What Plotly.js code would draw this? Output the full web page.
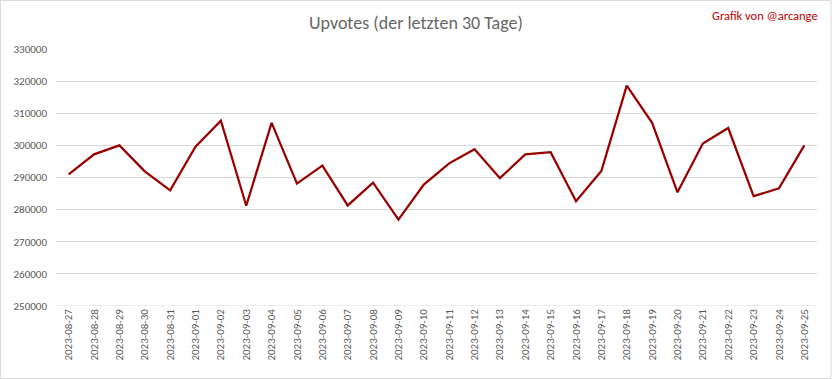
<!DOCTYPE html>
<html><head><meta charset="utf-8">
<script src="https://cdn.plot.ly/plotly-3.0.1.min.js"></script>
<style>html,body{margin:0;padding:0;background:#fff}#c{width:832px;height:379px}</style>
</head><body><div id="c"></div>
<script>
const dates = ["2023-08-27","2023-08-28","2023-08-29","2023-08-30","2023-08-31","2023-09-01","2023-09-02","2023-09-03","2023-09-04","2023-09-05","2023-09-06","2023-09-07","2023-09-08","2023-09-09","2023-09-10","2023-09-11","2023-09-12","2023-09-13","2023-09-14","2023-09-15","2023-09-16","2023-09-17","2023-09-18","2023-09-19","2023-09-20","2023-09-21","2023-09-22","2023-09-23","2023-09-24","2023-09-25"];
const upvotes = [291000,297200,300000,291900,286000,299600,307700,281200,307000,288100,293700,281300,288400,276900,287800,294400,298800,289800,297200,297900,282600,292000,318600,307000,285400,300600,305400,284200,286600,300000];
const yTicks = [250000,260000,270000,280000,290000,300000,310000,320000,330000];

const font = "Carlito, Calibri, Lato, 'Open Sans', sans-serif";
Plotly.newPlot('c', [{
  x: dates, y: upvotes, type: 'scatter', mode: 'lines',
  line: {color: '#990000', width: 2.25}, hoverinfo: 'skip'
}], {
  width: 832, height: 379,
  margin: {l: 56, r: 15, t: 49, b: 73},
  paper_bgcolor: '#fff', plot_bgcolor: '#fff',
  showlegend: false,
  font: {family: font, color: '#595959', size: 11},
  title: {text: 'Upvotes (der letzten 30 Tage)', x: 0.5, xanchor: 'center', y: 0.94, yanchor: 'middle',
          font: {family: font, size: 18, color: '#666666', weight: 300}},
  xaxis: {type: 'category', range: [-0.5, 29.5], tickangle: -90, showgrid: false, zeroline: false,
          showline: false, ticks: '', tickfont: {size: 11, color: '#595959'}},
  yaxis: {range: [250000, 330000], tickvals: yTicks, ticktext: yTicks.map(String), showgrid: true,
          gridcolor: '#d9d9d9', gridwidth: 1, zeroline: false, showline: false, ticks: '',
          tickfont: {size: 11, color: '#595959'}, ticklabelstandoff: 8},
  annotations: [{text: 'Grafik von @arcange', xref: 'paper', yref: 'paper', x: 1.004, y: 1.132,
                 xanchor: 'right', yanchor: 'middle', showarrow: false,
                 font: {family: font, size: 12.5, color: '#c00000'}}],
  shapes: [{type: 'rect', xref: 'paper', yref: 'paper', x0: -0.0730, x1: 1.0185, y0: -0.282, y1: 1.189,
            line: {color: '#d9d9d9', width: 1}, layer: 'below'},
           {type: 'line', xref: 'paper', yref: 'y', x0: 0, x1: 1, y0: 250000, y1: 250000,
            line: {color: '#d9d9d9', width: 1}, layer: 'below'}]
}, {staticPlot: true, displayModeBar: false});
</script></body></html>
